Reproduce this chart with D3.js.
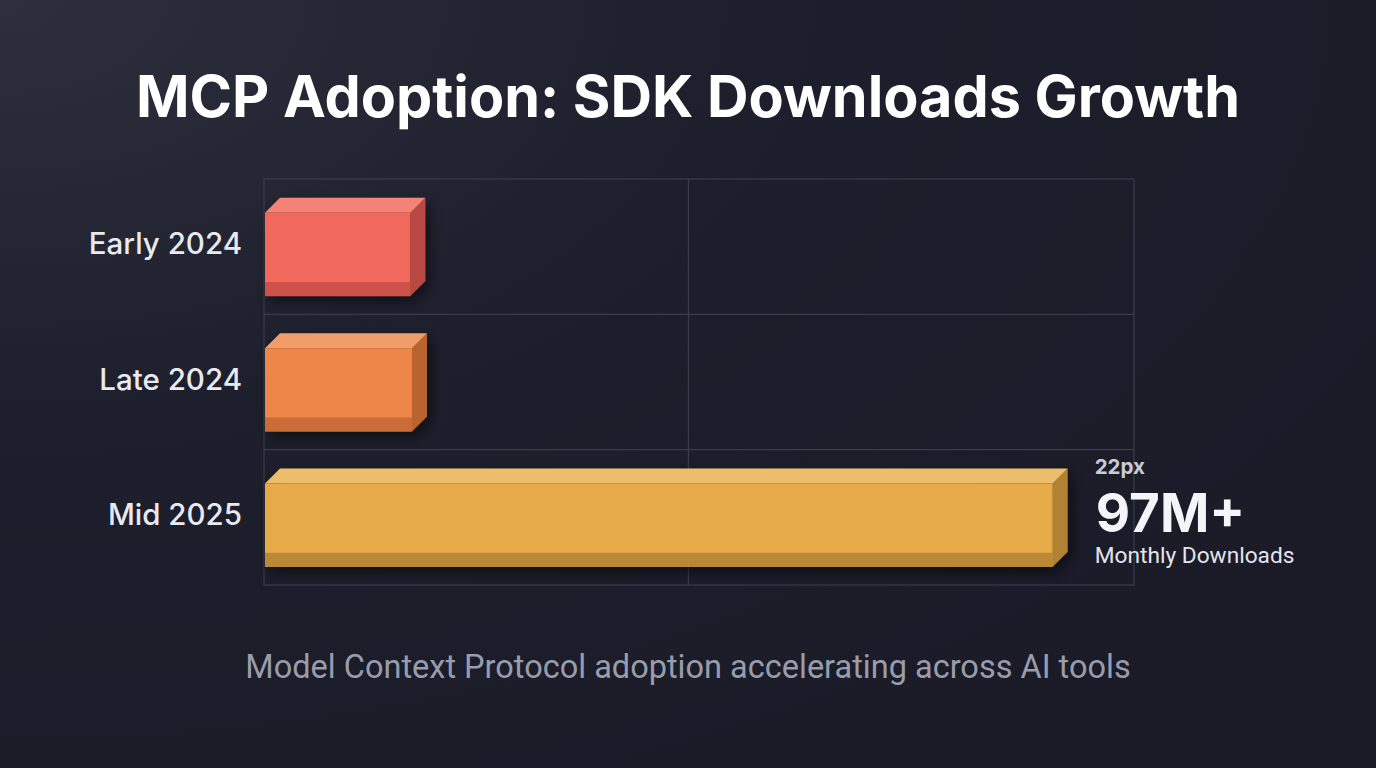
<!DOCTYPE html>
<html lang="en">
<head>
<meta charset="UTF-8">
<title>MCP Adoption</title>
<style>
  html, body { margin: 0; padding: 0; background: #1c1e2a; }
  svg { display: block; }
  .grid line, .grid rect { stroke: #393c4b; stroke-width: 1.2px; fill: none; }
</style>
</head>
<body>
<svg id="main" width="1376" height="768"></svg>
<script src="https://cdn.jsdelivr.net/npm/d3@7"></script>
<script>
// data
var categories = ["Early 2024", "Late 2024", "Mid 2025"];
var downloads = [18, 18.2, 97];           // millions / month
var gridValues = [0, 52.2, 107];
var frontColors = ["#f1675b", "#ee8549", "#e6aa48"];
var topColors   = ["#f48274", "#f19d6b", "#ecbe6c"];
var sideColors  = ["#b94a43", "#b9642f", "#b08232"];
var lipColors   = ["#cd5149", "#c96c37", "#b98939"];

var W = 1376, H = 768,
    plotL = 264, plotR = 1134, plotT = 179, plotB = 585,
    depth = 15;

var svg = d3.select("#main");
var defs = svg.append("defs");

var bg = defs.append("radialGradient").attr("id", "bg")
    .attr("cx", "0%").attr("cy", "0%").attr("r", "120%");
bg.append("stop").attr("offset", "0%").attr("stop-color", "#2d2f3c");
bg.append("stop").attr("offset", "45%").attr("stop-color", "#1d1f2c");
bg.append("stop").attr("offset", "100%").attr("stop-color", "#1a1b27");

var sh = defs.append("filter").attr("id", "shadow")
    .attr("x", "-10%").attr("y", "-30%").attr("width", "130%").attr("height", "180%");
sh.append("feDropShadow").attr("dx", 4).attr("dy", 6).attr("stdDeviation", 7)
    .attr("flood-color", "#000").attr("flood-opacity", 0.5);

svg.append("rect").attr("width", W).attr("height", H).attr("fill", "url(#bg)");

var x = d3.scaleLinear().domain([0, 107]).range([plotL, plotR]);
var y = d3.scaleBand().domain(categories).range([plotT, plotB]);

// grid
var grid = svg.append("g").attr("class", "grid");
grid.append("rect").attr("x", plotL).attr("y", plotT)
    .attr("width", plotR - plotL).attr("height", plotB - plotT);
grid.selectAll("line.v").data(gridValues.slice(1, -1)).enter().append("line")
    .attr("x1", d => x(d)).attr("x2", d => x(d))
    .attr("y1", plotT).attr("y2", plotB);
grid.selectAll("line.h").data(categories.slice(1)).enter().append("line")
    .attr("x1", plotL).attr("x2", plotR)
    .attr("y1", d => y(d)).attr("y2", d => y(d));

// bars
var data = categories.map((c, i) => ({ c: c, v: downloads[i], i: i }));
var bw = y.bandwidth();

var bars = svg.selectAll("g.bar").data(data).enter().append("g")
    .attr("class", "bar").attr("filter", "url(#shadow)");

bars.each(function(d) {
  var g = d3.select(this);
  var x0 = x(0) + 1, x1 = x(d.v),
      y0 = y(d.c) + bw * 0.25, y1 = y0 + bw * 0.615;
  var lip = 14;
  // side
  g.append("path")
    .attr("d", "M" + x1 + "," + y0 + " L" + (x1 + depth) + "," + (y0 - depth) +
      " L" + (x1 + depth) + "," + (y1 - depth) + " L" + x1 + "," + y1 + "Z")
    .attr("fill", sideColors[d.i]);
  // top
  g.append("path")
    .attr("d", "M" + x0 + "," + y0 + " L" + (x0 + depth) + "," + (y0 - depth) +
      " L" + (x1 + depth) + "," + (y0 - depth) + " L" + x1 + "," + y0 + "Z")
    .attr("fill", topColors[d.i]);
  // front
  g.append("rect").attr("x", x0).attr("y", y0)
    .attr("width", x1 - x0).attr("height", y1 - y0)
    .attr("fill", frontColors[d.i]);
  g.append("rect").attr("x", x0).attr("y", y1 - lip)
    .attr("width", x1 - x0).attr("height", lip)
    .attr("fill", lipColors[d.i]);
});

// category labels
svg.selectAll("text.cat").data(categories).enter().append("text")
  .attr("x", plotL - 22)
  .attr("y", d => y(d) + bw / 2 + 7.5)
  .attr("text-anchor", "end")
  .attr("font-family", "Inter, Roboto, sans-serif")
  .attr("font-weight", 500)
  .attr("font-size", 29.5)
  .attr("fill", "#e9eaf0")
  .text(d => d);

// annotation next to the last bar
var last = data[data.length - 1];
var ax = x(last.v) + depth + 27;
var ann = svg.append("g").attr("font-family", "Inter, Roboto, sans-serif");
ann.append("text").attr("x", ax).attr("y", 474)
  .attr("font-size", 20.5).attr("font-weight", 700).attr("fill", "#c9cbd6").text("22px");
ann.append("text").attr("x", ax + 1).attr("y", 532)
  .attr("font-size", 53).attr("font-weight", 700).attr("fill", "#f4f5f8").text("97M+");
ann.append("text").attr("x", ax).attr("y", 563)
  .attr("font-family", "Roboto, sans-serif")
  .attr("font-size", 22.7).attr("fill", "#e4e5ec").text("Monthly Downloads");

// title + subtitle
svg.append("text").attr("x", W / 2).attr("y", 117)
  .attr("text-anchor", "middle")
  .attr("font-family", "Inter, Roboto, sans-serif")
  .attr("font-weight", 700).attr("font-size", 57.5)
  .attr("fill", "#ffffff")
  .text("MCP Adoption: SDK Downloads Growth");

svg.append("text").attr("x", W / 2).attr("y", 678)
  .attr("text-anchor", "middle")
  .attr("font-family", "Roboto, sans-serif")
  .attr("font-size", 32.5)
  .attr("fill", "#989cab")
  .text("Model Context Protocol adoption accelerating across AI tools");
</script>
</body>
</html>
